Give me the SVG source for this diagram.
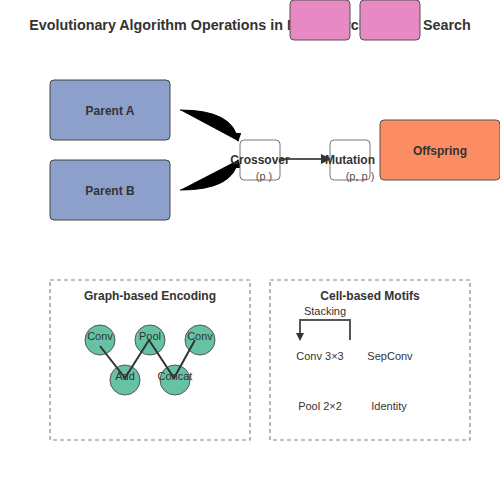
<svg xmlns="http://www.w3.org/2000/svg" width="500" height="500" viewBox="0 0 500 500">
<defs>
<style>
text{font-family:"Liberation Sans",Arial,sans-serif;}
.title{font-size:14.3px;font-weight:bold;fill:#333;text-anchor:middle;}
.lbl{font-size:12px;font-weight:bold;fill:#333;text-anchor:middle;}
.sub{font-size:11px;fill:#555;text-anchor:middle;}
.small{font-size:11px;fill:#333;text-anchor:middle;}
.parent{fill:#8da0cb;stroke:#444;stroke-width:1;}
.op{fill:#fff;stroke:#777;stroke-width:1;}
.pink{fill:#e78ac3;stroke:#555;stroke-width:1;}
.panel{fill:none;stroke:#888;stroke-width:1.2;stroke-dasharray:4,3;}
.gnode{fill:#66c2a5;stroke:#555;stroke-width:1;}
.edge{stroke:#333;stroke-width:2;fill:none;}
.cres{fill:#000;stroke:#000;stroke-width:1;}
.conn{stroke:#555;stroke-width:2;fill:none;}
</style>
<marker id="ah" viewBox="0 0 10 10" refX="9" refY="5" markerWidth="5" markerHeight="5" orient="auto">
<path d="M0,0 L10,5 L0,10 z" fill="#333"/>
</marker>
<marker id="ahb" viewBox="0 0 10 10" refX="9" refY="5" markerWidth="9" markerHeight="9" orient="auto" markerUnits="userSpaceOnUse">
<path d="M0,0 L10,5 L0,10 z" fill="#000"/>
</marker>
</defs>
<rect width="500" height="500" fill="#fff"/>
<text class="title" x="250" y="30">Evolutionary Algorithm Operations in Neural Architecture Search</text>
<g id="title-box-1"><rect class="pink" x="290" y="0" width="60" height="40" rx="4"/></g>
<g id="title-box-2"><rect class="pink" x="360" y="0" width="60" height="40" rx="4"/></g>

<g id="connectors">
<path class="cres" d="M180,110 Q234,110 238,141" marker-end="url(#ahb)"/>
<path class="cres" d="M180,190 Q234,190 238,160" marker-end="url(#ahb)"/>
<line class="conn" x1="280" y1="159" x2="330" y2="159" marker-end="url(#ah)"/>
</g>

<g id="parent-a"><rect class="parent" x="50" y="80" width="120" height="60" rx="4"/><text class="lbl" x="110" y="115">Parent A</text></g>
<g id="parent-b"><rect class="parent" x="50" y="160" width="120" height="60" rx="4"/><text class="lbl" x="110" y="195">Parent B</text></g>
<g id="crossover"><rect class="op" x="240" y="140" width="40" height="40" rx="4"/><text class="lbl" x="260" y="164">Crossover</text><text class="sub" x="264" y="180">(p )</text></g>
<g id="mutation"><rect class="op" x="330" y="140" width="40" height="40" rx="4"/><text class="lbl" x="350" y="164">Mutation</text><text class="sub" x="360" y="180">(p, p )</text></g>
<g id="offspring"><rect x="380" y="120" width="120" height="60" rx="4" fill="#fc8d62" stroke="#555" stroke-width="1"/><text class="lbl" x="440" y="155">Offspring</text></g>

<g id="graph-panel">
<rect class="panel" x="50" y="280" width="200" height="160"/>
<text class="lbl" x="150" y="300">Graph-based Encoding</text>
<g id="g-conv1"><circle class="gnode" cx="100" cy="340" r="15"/><text class="small" x="100" y="340">Conv</text></g>
<g id="g-pool"><circle class="gnode" cx="150" cy="340" r="15"/><text class="small" x="150" y="340">Pool</text></g>
<g id="g-conv2"><circle class="gnode" cx="200" cy="340" r="15"/><text class="small" x="200" y="340">Conv</text></g>
<g id="g-add"><circle class="gnode" cx="125" cy="380" r="15"/><text class="small" x="125" y="380">Add</text></g>
<g id="g-concat"><circle class="gnode" cx="175" cy="380" r="15"/><text class="small" x="175" y="380">Concat</text></g>
<polyline class="edge" points="100,346 125,378 149,340 174,378 195,340"/>
</g>

<g id="cell-panel">
<rect class="panel" x="270" y="280" width="200" height="160"/>
<text class="lbl" x="370" y="300">Cell-based Motifs</text>
<text class="small" x="325" y="315">Stacking</text>
<path class="conn" d="M350,340 L350,320 L300,320 L300,335" stroke-width="1.5"/>
<path d="M296,333 L304,333 L300,341 z" fill="#333"/>
<g id="cell-conv"><text class="small" x="320" y="360">Conv 3×3</text></g>
<g id="cell-sepconv"><text class="small" x="390" y="360">SepConv</text></g>
<g id="cell-pool"><text class="small" x="320" y="410">Pool 2×2</text></g>
<g id="cell-identity"><text class="small" x="389" y="410">Identity</text></g>
</g>
</svg>
